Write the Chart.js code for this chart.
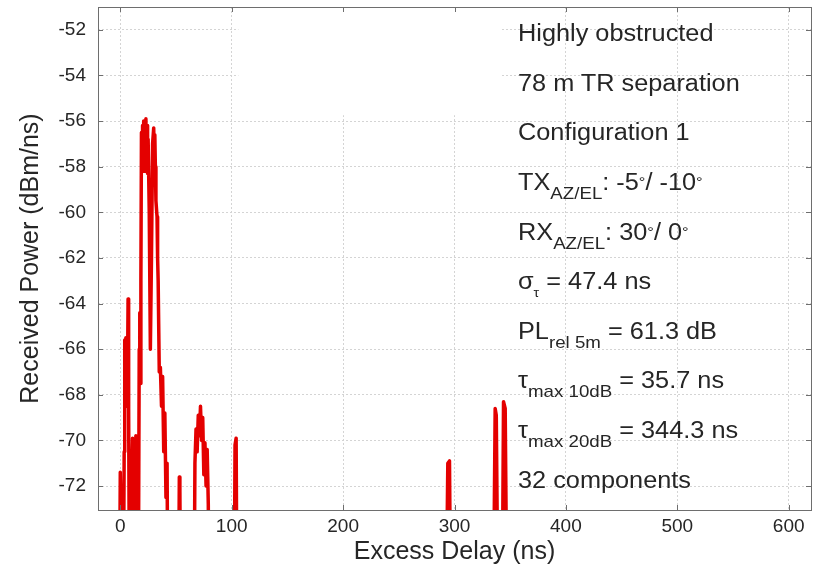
<!DOCTYPE html>
<html>
<head>
<meta charset="utf-8">
<script src="https://cdn.jsdelivr.net/npm/chart.js@4.4.1/dist/chart.umd.min.js"></script>
<style>
  html, body { margin: 0; padding: 0; background: #fff; }
  #wrap { position: relative; width: 821px; height: 569px; }
  #notes { position: absolute; left: 518px; top: 0; transform: scaleX(1.1); transform-origin: 0 0;
           font-family: "Liberation Sans", Arial, sans-serif; font-size: 23px; color: #262626; }
  #notes div { position: absolute; left: 0; white-space: nowrap; line-height: 23px; }
  .sb { font-size: 17px; position: relative; top: 9px; }
  .st { font-size: 13px; position: relative; top: 8px; }
  .sp { font-size: 15px; position: relative; top: -3px; }
</style>
</head>
<body>
<div id="wrap">
  <canvas id="chart" width="821" height="569"></canvas>
  <div id="notes"></div>
</div>
<script>
// excess delay (ns) and received power (dBm/ns); -80 = below the floor of the plot
const delays = [
  -3, -1, 0, 0.8, 1.5, 2.5,
  3, 3.5, 4, 4.5, 5, 5.5, 6, 6.5, 7, 7.5, 8.5,
  9.5, 10, 11, 11.5, 12.5, 13, 14, 14.5,
  16, 17, 17.5, 18, 18.5, 19, 19.5, 20, 20.5, 21, 21.5, 22, 22.5, 23, 23.5, 24, 24.5, 25, 26, 27, 28, 29, 30, 30.5, 31, 31.5,
  32, 33, 33.5, 34, 35, 36, 37, 38, 39, 40, 41, 42, 43,
  52, 53, 53.5, 54.5,
  66, 67, 68, 69, 70, 71, 72, 73, 74, 75, 76, 77, 78, 79, 80,
  102, 103, 104, 105,
  292, 294, 295.5, 297,
  334.5, 336.5, 337.5, 339.5,
  342.5, 344, 345.5, 347.5,
  620
];
const powers = [
  -80, -80, -71.4, -73.5, -72, -80,
  -80, -70.5, -65.6, -68.5, -65.5, -68.3, -66, -67, -63.8, -68.6, -80,
  -80, -72.5, -69.9, -73.5, -70.2, -72.5, -69.8, -80,
  -80, -66, -64.4, -67.5, -63, -56.5, -58, -56.2, -57.6, -56, -58.2, -56.1, -57.5, -55.9, -57.8, -56.2, -58.3, -56.8, -60, -66.0, -62, -57, -56.3, -57.5, -56.6, -58,
  -59.5, -60.2, -62, -63, -67, -66.8, -68.5, -67.2, -70.5, -68.8, -72.5, -71, -80,
  -80, -71.6, -72.2, -80,
  -80, -71, -69.5, -70.5, -68.9, -69.8, -68.5, -70, -69, -71.5, -70.1, -72, -70.4, -72.8, -80,
  -80, -70.2, -69.9, -80,
  -80, -71, -70.9, -80,
  -80, -68.6, -68.9, -80,
  -80, -68.3, -68.6, -80,
  -80
];
const xTicks = [0, 100, 200, 300, 400, 500, 600];
const yTicks = [-72, -70, -68, -66, -64, -62, -60, -58, -56, -54, -52];
const xRange = [-20, 620];
const yRange = [-73.05, -51];
// blank patch in the upper middle of the original plot (data units)
const blankX = [106, 341];
const blankY = [-55.7, -51];

const notes = [
  'Highly obstructed',
  '78 m TR separation',
  'Configuration 1',
  'TX<span class="sb">AZ/EL</span>: -5<span class="sp">&deg;</span>/ -10<span class="sp">&deg;</span>',
  'RX<span class="sb">AZ/EL</span>: 30<span class="sp">&deg;</span>/ 0<span class="sp">&deg;</span>',
  '&sigma;<span class="st">&tau;</span> = 47.4 ns',
  'PL<span class="sb">rel 5m</span> = 61.3 dB',
  '&tau;<span class="sb">max 10dB</span> = 35.7 ns',
  '&tau;<span class="sb">max 20dB</span> = 344.3 ns',
  '32 components'
];

const notesBox = document.getElementById('notes');
notes.forEach((html, i) => {
  const d = document.createElement('div');
  d.style.top = (22.2 + 49.6 * i) + 'px';
  d.innerHTML = html;
  notesBox.appendChild(d);
});

const font = '"Liberation Sans", Arial, sans-serif';
const textColor = '#262626';

const frame = {
  id: 'frame',
  beforeDatasetsDraw(chart) {
    const { ctx, scales: { x, y } } = chart;
    const x1 = x.getPixelForValue(blankX[0]), x2 = x.getPixelForValue(blankX[1]);
    const y1 = y.getPixelForValue(blankY[1]), y2 = y.getPixelForValue(blankY[0]);
    ctx.save();
    ctx.fillStyle = '#fff';
    ctx.fillRect(x1, y1 + 1, x2 - x1, y2 - y1);
    ctx.restore();
  },
  afterDraw(chart) {
    const { ctx, chartArea: a, scales: { x, y } } = chart;
    ctx.save();
    ctx.strokeStyle = '#6e6e6e';
    ctx.lineWidth = 1;
    ctx.strokeRect(Math.round(a.left) + 0.5, Math.round(a.top) + 0.5,
      Math.round(a.right - a.left), Math.round(a.bottom - a.top));
    const len = 5;
    ctx.beginPath();
    xTicks.forEach(v => {
      const px = Math.round(x.getPixelForValue(v)) + 0.5;
      ctx.moveTo(px, a.bottom); ctx.lineTo(px, a.bottom - len);
      ctx.moveTo(px, a.top); ctx.lineTo(px, a.top + len);
    });
    yTicks.forEach(v => {
      const py = Math.round(y.getPixelForValue(v)) + 0.5;
      ctx.moveTo(a.left, py); ctx.lineTo(a.left + len, py);
      ctx.moveTo(a.right, py); ctx.lineTo(a.right - len, py);
    });
    ctx.stroke();
    ctx.restore();
  }
};

new Chart(document.getElementById('chart'), {
  type: 'scatter',
  data: {
    datasets: [{
      data: delays.map((d, i) => ({ x: d, y: powers[i] })),
      showLine: true,
      borderColor: 'rgb(228, 0, 0)',
      borderWidth: 3.5,
      borderJoinStyle: 'round',
      pointRadius: 0,
      tension: 0,
      clip: 0
    }]
  },
  options: {
    responsive: false,
    animation: false,
    devicePixelRatio: 1,
    layout: { padding: { top: 7, right: 10, left: 0, bottom: 0 } },
    plugins: { legend: { display: false }, tooltip: { enabled: false } },
    scales: {
      x: {
        min: xRange[0], max: xRange[1],
        afterBuildTicks: s => { s.ticks = xTicks.map(v => ({ value: v })); },
        afterFit: s => { s.height = 59; s.paddingLeft = 0; s.paddingRight = 0; },
        ticks: { font: { family: font, size: 19 }, color: textColor, padding: 5, maxRotation: 0 },
        grid: { color: '#d4d4d4', drawTicks: false },
        border: { display: false, dash: [2, 2] },
        title: { display: true, text: 'Excess Delay (ns)', color: textColor,
                 font: { family: font, size: 25 }, padding: { top: 0, bottom: 2 } }
      },
      y: {
        min: yRange[0], max: yRange[1],
        afterBuildTicks: s => { s.ticks = yTicks.map(v => ({ value: v })); },
        afterFit: s => { s.width = 98; s.paddingTop = 0; s.paddingBottom = 0; },
        ticks: { font: { family: font, size: 19 }, color: textColor, padding: 12 },
        grid: { color: '#d4d4d4', drawTicks: false },
        border: { display: false, dash: [2, 2] },
        title: { display: true, text: 'Received Power (dBm/ns)', color: textColor,
                 font: { family: font, size: 25 }, padding: { top: 16, bottom: 0 } }
      }
    }
  },
  plugins: [frame]
});
</script>
</body>
</html>
